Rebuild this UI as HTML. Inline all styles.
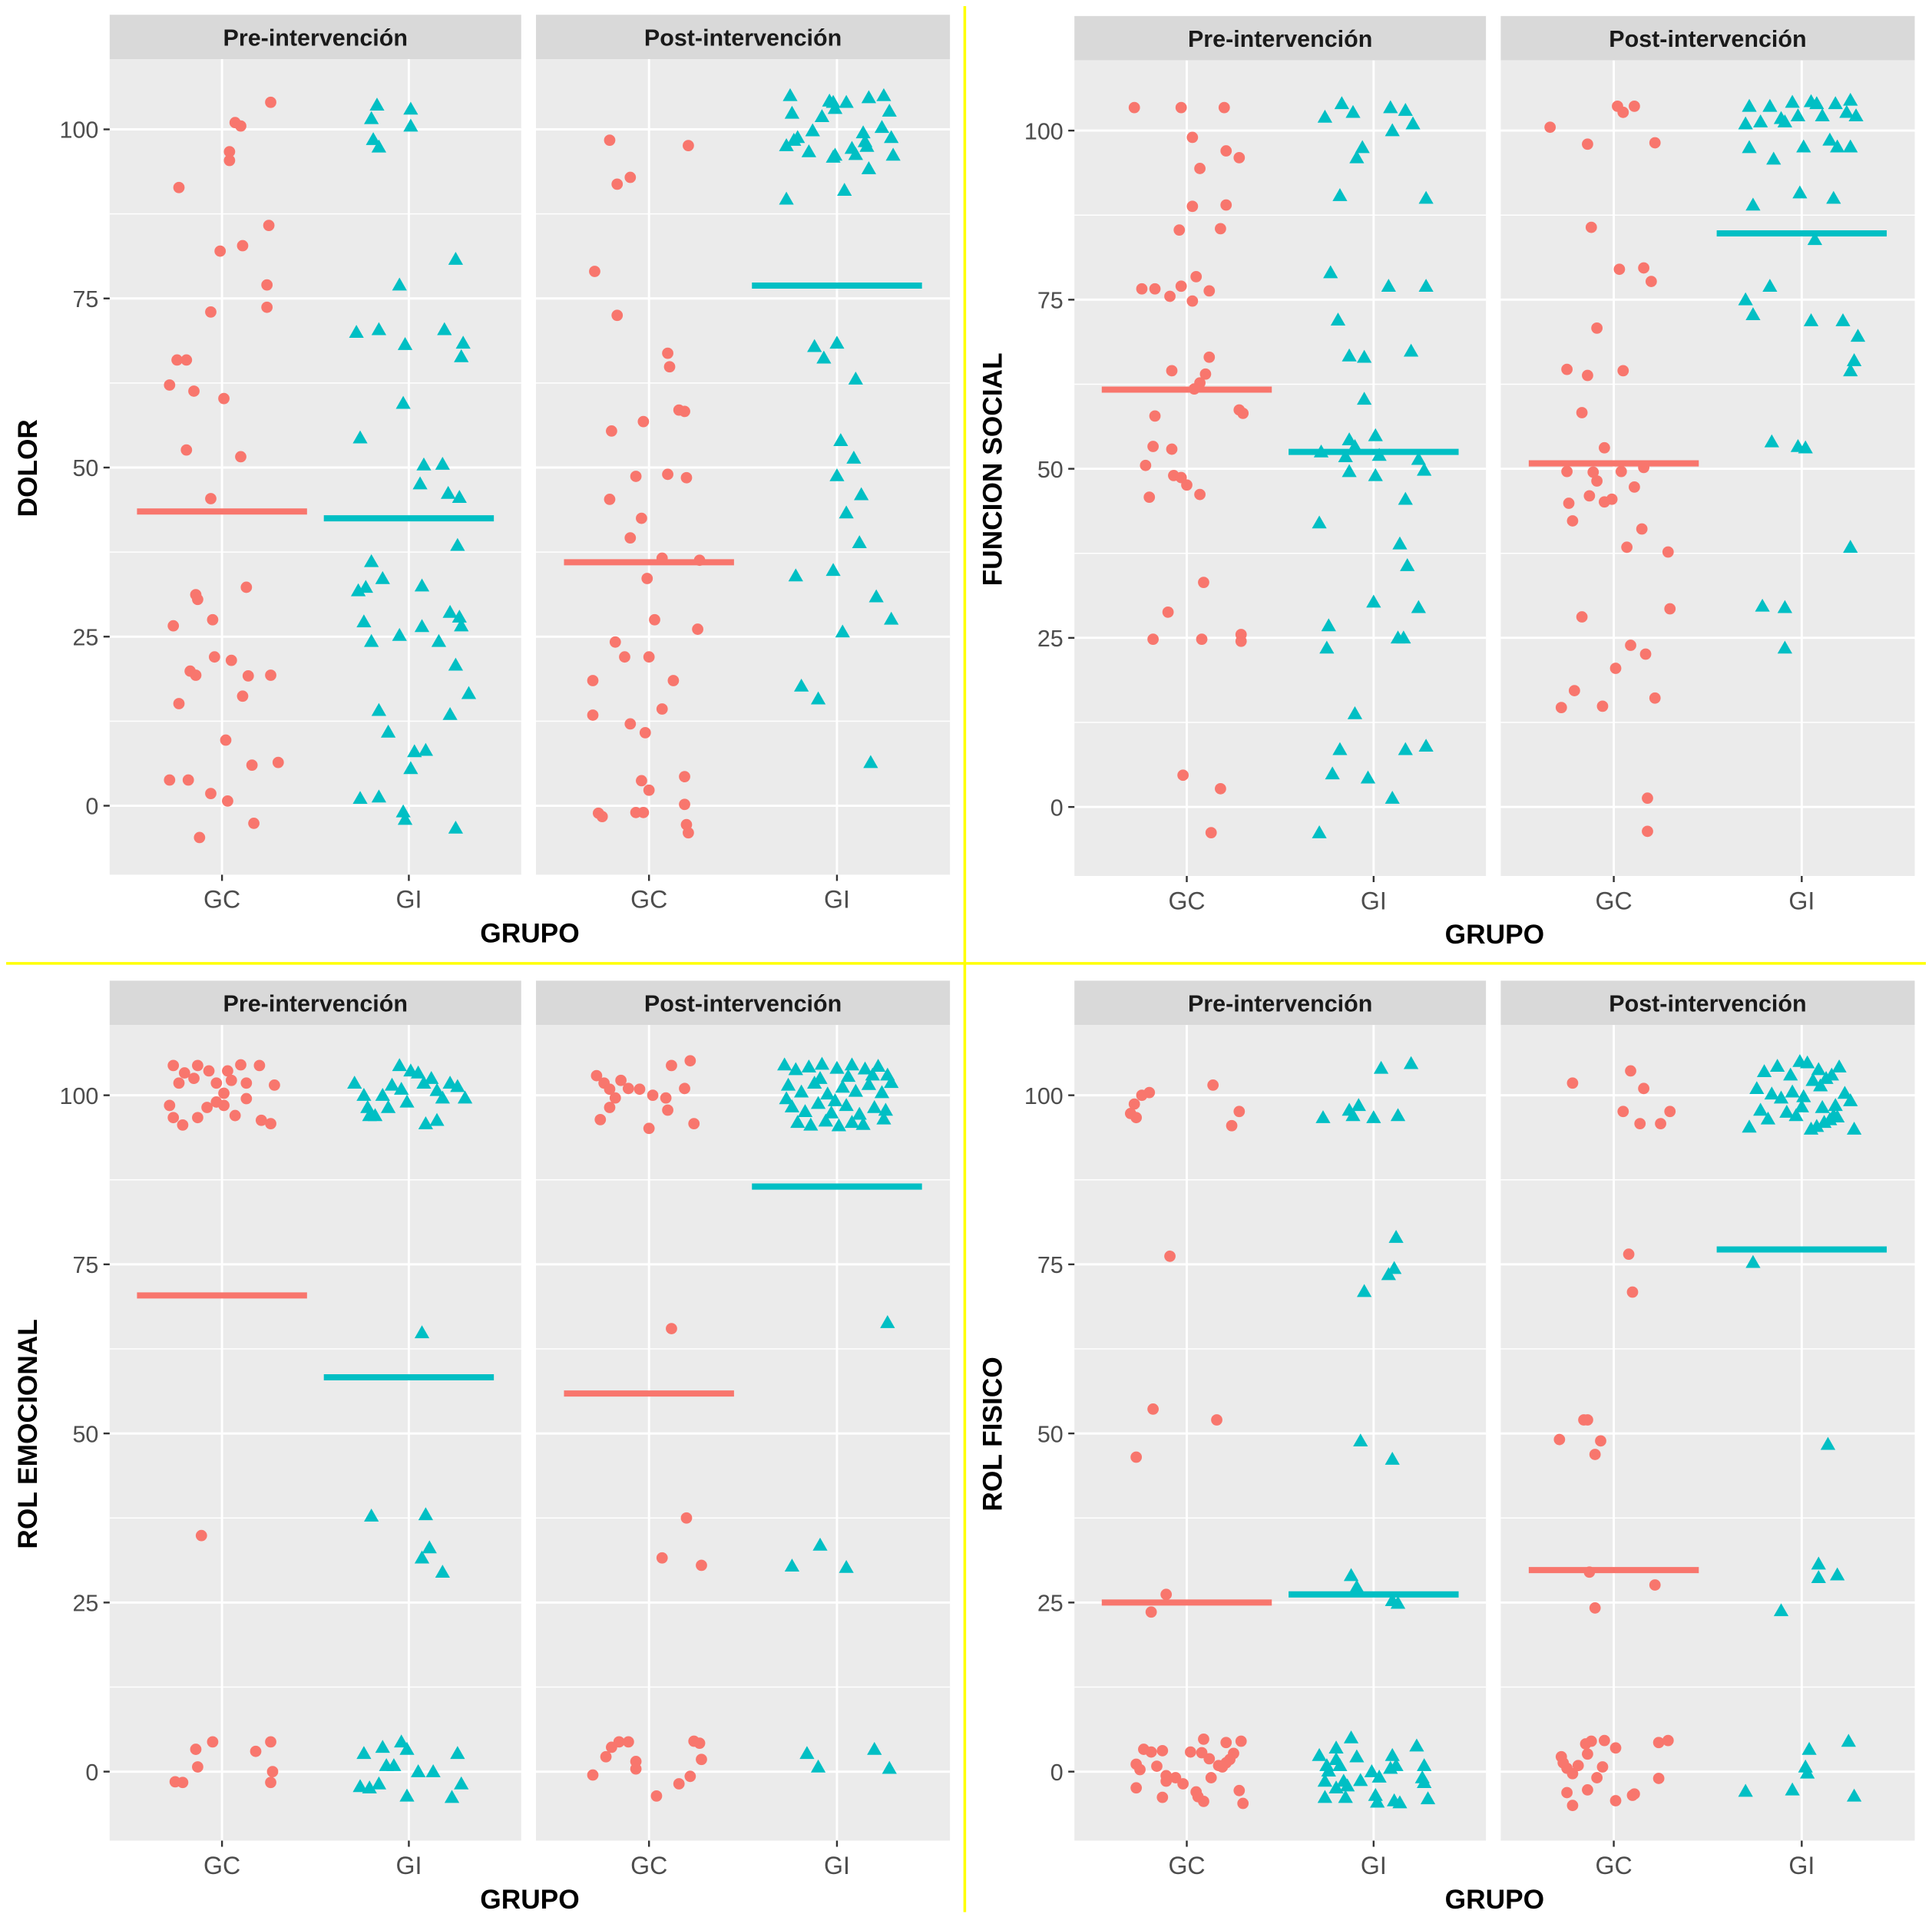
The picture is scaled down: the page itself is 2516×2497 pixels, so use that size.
<!DOCTYPE html>
<html><head><meta charset="utf-8"><style>
html,body{margin:0;padding:0;background:#fff;}
svg{display:block;font-family:"Liberation Sans",Arial,sans-serif;}
</style></head><body>
<svg id="fig" width="2516" height="2497" viewBox="0 0 1568 1556" preserveAspectRatio="none" xmlns="http://www.w3.org/2000/svg">
<rect x="0" y="0" width="1568" height="1556" fill="#ffffff"/>
</svg>
<script>
// ---- data: [jitter (hundredths of category spacing), value] ----
const categories = ["GC","GI"];
const facets = ["Pre-intervención","Post-intervención"];
const yTicks = [0,25,50,75,100];
const titles = ["DOLOR","FUNCION SOCIAL","ROL EMOCIONAL","ROL FISICO"];

const dolorPreGC = [[-23,91.4],[7,101],[10,100.5],[4,96.7],[4,95.4],[26,104],[25,85.8],[11,82.8],[-1,82],[24,77],[24,73.7],[-6,73],[-24,65.9],[-19,65.9],[-28,62.2],[-15,61.3],[1,60.2],[-19,52.6],[10,51.6],[-6,45.4],[-14,31.2],[-13,30.5],[13,32.3],[-26,26.6],[-5,27.5],[-17,19.9],[-14,19.3],[-4,22],[5,21.5],[14,19.2],[26,19.3],[-23,15.1],[11,16.2],[2,9.7],[-28,3.8],[-18,3.8],[-6,1.8],[3,0.7],[16,6],[30,6.4],[17,-2.6],[-12,-4.7]];
const dolorPreGI = [[-17,103.6],[-20,101.6],[1,103],[1,100.5],[-19,98.5],[-16,97.4],[25,80.8],[-5,77],[-28,70],[-16,70.4],[19,70.4],[-2,68.2],[29,68.4],[28,66.4],[-3,59.5],[-26,54.4],[8,50.4],[18,50.5],[6,47.6],[21,46.2],[27,45.6],[26,38.5],[-20,36.1],[-27,31.8],[-23,32.3],[-14,33.6],[7,32.5],[22,28.6],[27,27.9],[28,26.6],[-24,27.2],[-20,24.3],[-5,25.2],[7,26.5],[16,24.3],[25,20.8],[32,16.6],[-16,14.1],[22,13.5],[-11,10.9],[9,8.2],[3,8],[1,5.5],[-26,1.1],[-16,1.3],[-3,-0.9],[-2,-2],[25,-3.3]];
const dolorPostGC = [[-21,98.4],[21,97.6],[-17,91.9],[-10,92.9],[-29,79],[-17,72.5],[10,66.9],[11,64.9],[16,58.5],[19,58.3],[-20,55.4],[-3,56.8],[-21,45.3],[-7,48.7],[10,49],[20,48.5],[-4,42.5],[-10,39.6],[7,36.6],[27,36.3],[-1,33.6],[3,27.5],[26,26.1],[-18,24.2],[-13,22],[0,22],[-30,18.5],[13,18.5],[-30,13.4],[7,14.3],[-10,12.1],[-2,10.8],[-4,3.7],[19,4.3],[0,2.3],[-27,-1.1],[-25,-1.6],[-7,-1],[-3,-1],[19,0.2],[20,-2.8],[21,-4]];
const dolorPostGI = [[-25,105],[-24,102.4],[-27,97.6],[-23,98.4],[-21,98.8],[-15,96.7],[-13,99.8],[-8,101.9],[-4,104.2],[-2,104],[-1,103.1],[5,104],[8,97.2],[10,96.3],[14,99.5],[15,98.2],[16,97.5],[17,94.2],[17,104.7],[24,100.3],[25,105],[28,102.7],[29,98.8],[30,96.2],[-27,89.7],[4,91],[-1,96.2],[-2,95.9],[-12,67.9],[-7,66.2],[0,68.4],[10,63.1],[2,54],[9,51.4],[0,48.8],[13,46],[5,43.3],[12,38.9],[-22,34],[-2,34.8],[21,30.9],[29,27.6],[3,25.7],[-19,17.7],[-10,15.8],[18,6.4]];

const fsPreGC = [[-28,103.4],[-3,103.4],[20,103.4],[3,99],[21,97],[28,96],[7,94.4],[3,88.8],[21,89],[-4,85.3],[18,85.5],[5,78.4],[-24,76.6],[-17,76.6],[-3,77],[12,76.3],[-9,75.5],[3,74.8],[12,66.5],[-8,64.5],[10,64],[7,62.7],[4,61.8],[28,58.7],[30,58.2],[-17,57.8],[-18,53.3],[-8,52.9],[-22,50.5],[-7,49],[-3,48.7],[0,47.6],[-20,45.8],[7,46.2],[9,33.2],[-10,28.8],[-18,24.8],[8,24.8],[29,25.5],[29,24.5],[-2,4.7],[18,2.7],[13,-3.8]];
const fsPreGI = [[-26,102],[-17,104],[-11,102.7],[9,103.4],[17,103],[-9,96],[-6,97.5],[10,100],[21,101],[28,90],[-18,90.4],[-23,79],[-19,72],[8,77],[28,77],[20,67.4],[-13,66.7],[-5,66.5],[-5,60.3],[-13,54.3],[-10,53.3],[1,54.9],[-15,51.8],[3,52],[-28,52.5],[-13,49.6],[1,49],[27,49.8],[24,51.4],[17,45.5],[14,38.9],[18,35.7],[-29,42],[0,30.3],[24,29.5],[-24,26.8],[13,25],[16,25],[-25,23.5],[-10,13.8],[-18,8.5],[28,9],[17,8.5],[-22,4.9],[-3,4.3],[10,1.3],[-29,-3.8]];
const fsPostGC = [[-34,100.5],[2,103.6],[5,102.7],[11,103.6],[22,98.2],[-14,98],[-12,85.7],[3,79.5],[16,79.7],[20,77.7],[-9,70.8],[-25,64.7],[-14,63.8],[5,64.5],[-17,58.3],[-5,53.1],[-25,49.6],[-11,49.5],[4,49.6],[16,50.2],[-24,44.9],[-13,46],[-5,45.1],[-1,45.5],[-9,48.2],[11,47.3],[-22,42.3],[15,41.1],[7,38.4],[29,37.7],[30,29.3],[-17,28.1],[9,23.9],[17,22.6],[1,20.5],[-21,17.2],[22,16.1],[-28,14.7],[-6,14.9],[18,1.3],[18,-3.6]];
const fsPostGI = [[-30,101],[-28,97.5],[-17,103.6],[-11,101.8],[-5,104.2],[-2,102.2],[5,104.3],[11,102.2],[18,104],[24,102.7],[29,102.2],[-9,101.3],[-15,95.8],[-22,101.3],[15,98.6],[19,97.6],[26,97.6],[-28,103.6],[1,97.6],[8,104],[26,104.5],[-26,89],[-1,90.8],[17,90],[7,83.9],[-30,75],[-26,72.8],[-17,77],[5,71.9],[22,71.9],[30,69.6],[28,66],[26,64.5],[-16,54],[-2,53.3],[2,53.1],[26,38.4],[-21,29.7],[-9,29.5],[-9,23.5]];

const rePreGC = [[-26,104.4],[-20,103.3],[-13,104.4],[-7,103.6],[3,103.6],[10,104.5],[20,104.4],[-23,101.8],[-15,102.5],[-3,101.8],[5,102.2],[13,101.8],[28,101.5],[-26,96.7],[-21,95.6],[-13,96.7],[-3,99],[1,100.3],[7,97],[13,99.5],[21,96.3],[26,95.8],[-28,98.5],[-8,98.2],[1,98.5],[-11,34.9],[-25,-1.5],[-21,-1.6],[-13,0.7],[-14,3.3],[-5,4.4],[18,3],[26,4.4],[27,0],[26,-1.6]];
const rePreGI = [[-29,101.8],[-24,100],[-22,98.2],[-21,97],[-14,100],[-9,101.5],[-4,100.9],[-1,99],[-5,104.4],[1,103.6],[5,103.3],[12,102.5],[15,100.7],[18,99.6],[22,101.8],[26,101.3],[30,99.6],[9,95.8],[15,96.3],[-18,97],[-11,98.2],[8,101.8],[7,64.9],[-20,37.8],[9,38],[11,33.1],[7,31.6],[18,29.5],[-24,2.7],[-14,3.6],[-4,4.4],[-1,3.3],[-8,0.9],[5,0],[13,0],[-21,-2.4],[-26,-2.2],[-16,-1.8],[-1,-3.6],[23,-3.8],[26,2.7],[28,-1.8],[-12,0.9]];
const rePostGC = [[-28,102.9],[-24,101.8],[-21,98.2],[-26,96.4],[-18,99.6],[-15,102.2],[-11,101],[-5,100.9],[2,100],[9,99.6],[12,104.4],[22,105.1],[19,101],[24,95.8],[0,95.1],[-21,100.9],[10,97.8],[12,65.5],[20,37.5],[7,31.6],[28,30.5],[-30,-0.5],[-23,2.2],[-20,3.6],[-16,4.4],[-11,4.4],[-7,1.5],[-7,0.4],[4,-3.6],[16,-1.8],[22,-0.7],[24,4.5],[27,4.2],[28,1.8]];
const rePostGI = [[-28,104.5],[-22,103.8],[-15,104.2],[-8,104.6],[0,104],[8,104.5],[15,103.9],[22,104.3],[27,103],[-26,101.5],[-19,100.5],[-12,101.8],[-5,100.2],[3,101.2],[10,100.6],[17,101.6],[24,100.4],[29,101.9],[-24,98.3],[-17,97.6],[-10,98.8],[-3,97.4],[5,98.5],[12,97.2],[20,98.2],[26,97.8],[-21,96],[-14,95.6],[-6,96.2],[1,95.5],[8,96],[14,95.7],[-27,99.5],[-9,102.5],[6,102.8],[19,103],[-1,99.2],[25,96.5],[27,66.4],[-24,30.4],[-9,33.5],[5,30.2],[-16,2.7],[-10,0.7],[20,3.3],[28,0.5]];

const rfPreGC = [[-28,98.7],[-24,100],[-20,100.4],[-30,97.3],[-27,96.7],[14,101.5],[28,97.6],[24,95.5],[-9,76.2],[-18,53.6],[16,52],[-27,46.5],[-11,26.2],[-19,23.6],[-27,1.1],[-25,0.3],[-23,3.3],[-19,2.9],[-13,3.1],[-16,0.8],[-11,-0.6],[-11,-1.4],[-6,-0.9],[-2,-1.8],[-27,-2.4],[-13,-3.8],[2,2.9],[8,2.8],[9,4.8],[12,1.9],[17,0.9],[21,4.3],[21,1.3],[25,2.7],[29,4.5],[13,-0.9],[6,-3.7],[9,-4.4],[28,-2.8],[30,-4.7],[5,-3],[23,1.8],[19,0.7]];
const rfPreGI = [[-27,96.7],[-13,97.8],[-8,98.5],[-11,97],[0,96.7],[13,97],[4,104],[20,104.7],[12,79],[11,74.4],[8,73.5],[-5,71],[-7,48.9],[10,46.2],[-12,29],[-9,27.3],[10,25.3],[13,24.9],[-29,2.4],[-25,0.9],[-20,3.5],[-20,1.8],[-18,0.9],[-12,5],[-9,2.2],[-26,-1.4],[-20,-2.4],[-14,-2.1],[-7,-1.3],[-1,0],[3,-0.8],[10,2.4],[12,0.9],[9,0.5],[23,3.8],[27,0.9],[26,-0.9],[27,-1.6],[-26,-3.8],[-15,-3.8],[1,-3.5],[2,-4.5],[11,-4.3],[14,-4.6],[29,-4],[-24,0.1],[-16,-1.4]];
const rfPostGC = [[-22,101.8],[9,103.6],[16,101],[5,97.6],[14,95.8],[25,95.8],[30,97.6],[8,76.5],[10,70.9],[-16,52],[-14,52],[-29,49.1],[-7,48.9],[-10,46.9],[-13,29.5],[22,27.6],[-10,24.2],[-28,2.2],[-27,1.3],[-25,0.5],[-22,-0.3],[-19,0.9],[-15,4.1],[-12,4.5],[-5,4.6],[1,3.5],[-14,2.6],[-6,0.7],[-9,-0.9],[-25,-3.1],[-14,-2.7],[11,-3.3],[1,-4.3],[-22,-5],[24,4.3],[29,4.6],[24,-1],[10,-3.5]];
const rfPostGI = [[-28,95.3],[-22,97.8],[-20,103.5],[-16,100.2],[-13,104.3],[-11,99.6],[-8,97.5],[-5,100.5],[-3,97],[-1,105],[1,99.8],[3,104.8],[5,95],[6,102.2],[8,95.4],[9,103.8],[11,98.2],[12,96],[13,102.5],[15,96.4],[16,103],[17,97],[19,96.8],[20,104.2],[23,100.3],[26,99.2],[28,95],[-24,101],[-18,96.5],[-6,103],[0,98.3],[10,101.4],[18,98.5],[-26,75.3],[14,48.4],[9,30.7],[9,28.7],[19,29.1],[-11,23.8],[-30,-2.9],[-5,-2.7],[2,0.7],[4,3.3],[25,4.5],[3,-0.2],[28,-3.6]];

const meansDolor = [43.5,42.5,36,76.9];
const meansFS = [61.7,52.5,50.8,84.8];
const meansRE = [70.4,58.3,55.9,86.5];
const meansRF = [25,26.2,29.8,77.2];

const NS = "http://www.w3.org/2000/svg";
const svg = document.getElementById("fig");
function mk(tag, attrs, parent, text){
  const e = document.createElementNS(NS, tag);
  for (const k in attrs) e.setAttribute(k, attrs[k]);
  if (text !== undefined) e.textContent = text;
  (parent||svg).appendChild(e);
  return e;
}
const RED = "#F8766D", CYAN = "#00BFC4";

function drawChart(ox, oy, yTitle, groups, means, slug){
  const g = mk("g", {transform:`translate(${ox},${oy})`});
  
  
  const panelX = [89, 435], panelW = [334, 336];
  const top = 48, bottom = 710;
  const yScale = v => 654 - v * 5.49;
  const xScale = (p, c, j) => panelX[p] + panelW[p]*(c===0?0.273:0.727) + (j/100)*152;
  for (let p = 0; p < 2; p++){
    const strip = mk("rect", {x:panelX[p], y:12, width:panelW[p], height:36, fill:"#d9d9d9"}, g);
    
    
    const st = mk("text", {x:panelX[p]+panelW[p]/2, y:37, "text-anchor":"middle", "font-size":19, "font-weight":"bold", fill:"#1a1a1a"}, g, facets[p]);
    
    
    const bg = mk("rect", {x:panelX[p], y:top, width:panelW[p], height:bottom-top, fill:"#ebebeb"}, g);
    
    
    for (let i = 0; i < yTicks.length - 1; i++){
      const ym = yScale((yTicks[i]+yTicks[i+1])/2);
      mk("line", {x1:panelX[p], x2:panelX[p]+panelW[p], y1:ym, y2:ym, stroke:"#fff", "stroke-width":0.9}, g);
    }
    const ymn = yScale(yTicks[0]-12.5);
    mk("line", {x1:panelX[p], x2:panelX[p]+panelW[p], y1:ymn, y2:ymn, stroke:"#fff", "stroke-width":0.9}, g);
    yTicks.forEach(t => {
      mk("line", {x1:panelX[p], x2:panelX[p]+panelW[p], y1:yScale(t), y2:yScale(t), stroke:"#fff", "stroke-width":1.8}, g);
    });
    for (let c = 0; c < 2; c++){
      const xc = xScale(p, c, 0);
      mk("line", {x1:xc, x2:xc, y1:top, y2:bottom, stroke:"#fff", "stroke-width":1.8}, g);
      mk("line", {x1:xc, x2:xc, y1:bottom, y2:bottom+5, stroke:"#333", "stroke-width":1.5}, g);
      const xl = mk("text", {x:xc, y:737, "text-anchor":"middle", "font-size":20, fill:"#4d4d4d"}, g, categories[c]);
      
      
    }
  }
  yTicks.forEach(t => {
    mk("line", {x1:84, x2:89, y1:yScale(t), y2:yScale(t), stroke:"#333", "stroke-width":1.5}, g);
    const tl = mk("text", {x:80, y:yScale(t)+7, "text-anchor":"end", "font-size":19, fill:"#4d4d4d"}, g, String(t));
    
    
  });
  // points
  groups.forEach((pts, gi) => {
    const p = gi >> 1, c = gi & 1;
    pts.forEach(([j, v]) => {
      const x = xScale(p, c, j), y = yScale(v);
      let el;
      if (c === 0){
        el = mk("circle", {cx:x, cy:y, r:4.6, fill:RED}, g);
        
      } else {
        el = mk("polygon", {points:`${x},${y-6} ${x-6},${y+4.5} ${x+6},${y+4.5}`, fill:CYAN}, g);
        
      }
      
    });
  });
  means.forEach((m, gi) => {
    const p = gi >> 1, c = gi & 1;
    const xc = xScale(p, c, 0);
    const ln = mk("line", {x1:xc-69, x2:xc+69, y1:yScale(m), y2:yScale(m), stroke:c===0?RED:CYAN, "stroke-width":5}, g);
    
    
  });
  const xt = mk("text", {x:430, y:765, "text-anchor":"middle", "font-size":22, "font-weight":"bold", fill:"#000"}, g, "GRUPO");
  
  
  const yt = mk("text", {x:0, y:0, transform:`translate(30,380) rotate(-90)`, "text-anchor":"middle", "font-size":22, "font-weight":"bold", fill:"#000"}, g, yTitle);
  
  
}

drawChart(0, 0, titles[0], [dolorPreGC, dolorPreGI, dolorPostGC, dolorPostGI], meansDolor, "dolor");
drawChart(783, 1, titles[1], [fsPreGC, fsPreGI, fsPostGC, fsPostGI], meansFS, "funcion-social");
drawChart(0, 784, titles[2], [rePreGC, rePreGI, rePostGC, rePostGI], meansRE, "rol-emocional");
drawChart(783, 784, titles[3], [rfPreGC, rfPreGI, rfPostGC, rfPostGI], meansRF, "rol-fisico");

const h = mk("line", {x1:5, x2:1563, y1:782, y2:782, stroke:"#ffff00", "stroke-width":2.2});


const v = mk("line", {x1:783, x2:783, y1:5, y2:1552, stroke:"#ffff00", "stroke-width":2.2});


</script>
</body></html>
